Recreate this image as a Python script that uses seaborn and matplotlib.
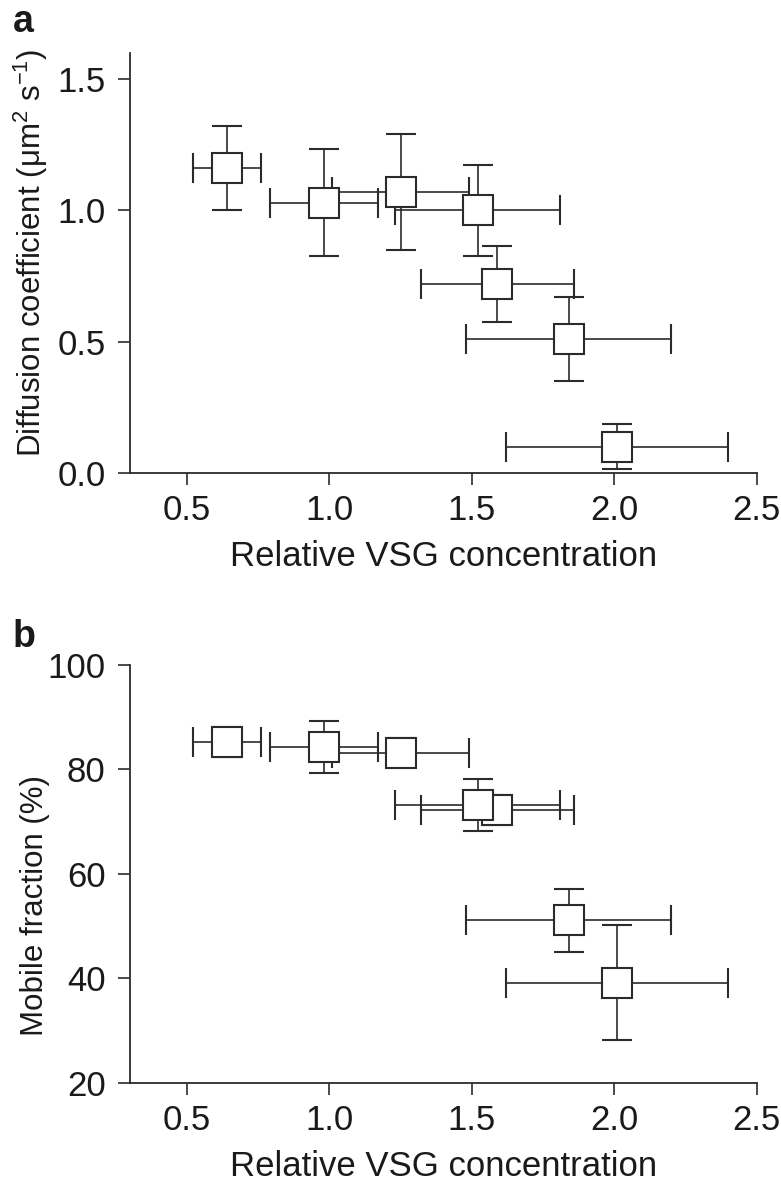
import matplotlib
matplotlib.use("Agg")
import matplotlib.pyplot as plt
import seaborn as sns

sns.set_theme(style="ticks")
plt.rcParams["font.family"] = ["Liberation Sans", "DejaVu Sans"]
plt.rcParams["mathtext.fontset"] = "custom"
plt.rcParams["mathtext.rm"] = "Liberation Sans"
plt.rcParams["mathtext.it"] = "Liberation Sans:italic"
plt.rcParams["mathtext.bf"] = "Liberation Sans:bold"

# data (same x values in both panels)
conc = [0.64, 0.98, 1.25, 1.52, 1.59, 1.84, 2.01]
conc_err = [0.12, 0.19, 0.24, 0.29, 0.27, 0.36, 0.39]
diffusion = [1.16, 1.03, 1.07, 1.00, 0.72, 0.51, 0.10]
diffusion_err = [0.16, 0.205, 0.22, 0.175, 0.145, 0.16, 0.085]
mobile = [85.2, 84.2, 83.2, 73.1, 72.2, 51.1, 39.1]
mobile_err = [2.8, 5.0, 2.8, 5.0, 2.8, 6.0, 11.0]

ink = "#2b2b2b"
fs = 25

fig = plt.figure(figsize=(7.81, 11.86), dpi=100)
ax_a = fig.add_axes([0.1665, 0.6014, 0.8024, 0.3539])
ax_b = fig.add_axes([0.1665, 0.0871, 0.8024, 0.3524])


def draw_points(ax, y, yerr):
    # later points go underneath earlier ones, as in the original
    for i in reversed(range(len(conc))):
        ax.errorbar(conc[i], y[i], xerr=conc_err[i], yerr=yerr[i],
                    fmt="s", ms=21, mfc="white", mec=ink, mew=1.5,
                    ecolor=ink, elinewidth=1.2, capsize=10.5, capthick=1.2)


def style_axis(ax):
    sns.despine(ax=ax)
    for side in ["left", "bottom"]:
        ax.spines[side].set_linewidth(1.3)
        ax.spines[side].set_color(ink)
    ax.tick_params(axis="both", direction="out", length=8.5, width=1.2,
                   color=ink, labelsize=fs, labelcolor="#1a1a1a", pad=9)
    ax.tick_params(axis="x", pad=7)
    ax.set_xlim(0.3, 2.5)
    ax.set_xticks([0.5, 1.0, 1.5, 2.0, 2.5])
    ax.set_xticklabels(["0.5", "1.0", "1.5", "2.0", "2.5"])
    ax.set_xlabel("Relative VSG concentration", fontsize=fs, color="#1a1a1a", labelpad=9)


draw_points(ax_a, diffusion, diffusion_err)
style_axis(ax_a)
ax_a.set_ylim(0, 1.6)
ax_a.set_yticks([0.0, 0.5, 1.0, 1.5])
ax_a.set_yticklabels(["0.0", "0.5", "1.0", "1.5"])
ax_a.set_ylabel("Diffusion coefficient (μm$^{2}$ s$^{-1}$)", fontsize=22.5, color="#1a1a1a")
ax_a.yaxis.set_label_coords(-0.128, 0.525)

draw_points(ax_b, mobile, mobile_err)
style_axis(ax_b)
ax_b.set_ylim(20, 100)
ax_b.set_yticks([20, 40, 60, 80, 100])
ax_b.set_ylabel("Mobile fraction (%)", fontsize=22.5, color="#1a1a1a")
ax_b.yaxis.set_label_coords(-0.128, 0.425)

fig.text(0.016, 0.997, "a", fontsize=27, fontweight="bold", va="top", color="#1a1a1a")
fig.text(0.016, 0.478, "b", fontsize=27, fontweight="bold", va="top", color="#1a1a1a")

fig.savefig("out.png", dpi=100, facecolor="white")
